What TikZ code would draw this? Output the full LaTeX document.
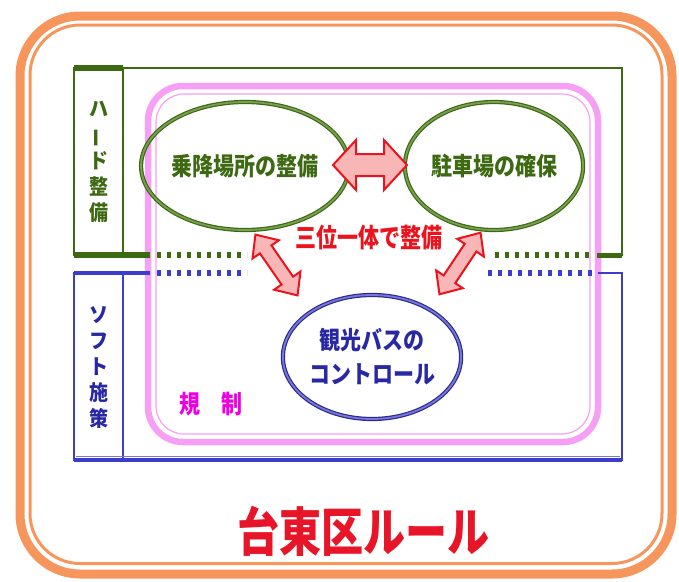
\documentclass[tikz,border=0pt]{standalone}
\usepackage{fontspec}
\newfontfamily\jp{Noto Sans CJK JP}
\usetikzlibrary{shapes.geometric}
\newcommand{\ystr}[2]{\scalebox{1}[#1]{#2}}
\definecolor{orng}{RGB}{247,150,92}
\definecolor{grn}{RGB}{60,105,18}
\definecolor{grnlt}{RGB}{120,160,80}
\definecolor{blu}{RGB}{60,60,205}
\definecolor{blutxt}{RGB}{40,40,165}
\definecolor{blult}{RGB}{120,120,220}
\definecolor{pnk}{RGB}{245,160,245}
\definecolor{redl}{RGB}{235,20,30}
\definecolor{arrfill}{RGB}{248,182,182}
\definecolor{mag}{RGB}{238,0,225}
\definecolor{titred}{RGB}{232,20,40}
\begin{document}
\begin{tikzpicture}[x=1pt,y=-1pt,
  ell/.style={ellipse, minimum width=174pt, minimum height=128pt, inner sep=0pt, line width=1.2pt, double distance=1.8pt},
  gell/.style={ell, draw=grn, double=grnlt, text=grn},
  bell/.style={ell, draw=blu!70!black, double=blult, text=blutxt, minimum width=172pt, minimum height=124pt},
  jtext/.style={font=\jp\bfseries\fontsize{21}{21}\selectfont},
  blockarrow/.style={draw=redl, fill=arrfill, line width=2pt, line join=miter},
  gline/.style={draw=grn, line width=2.8pt},
  bline/.style={draw=blu, line width=2.8pt},
  gdots/.style={draw=grn, line width=6pt, dash pattern=on 4pt off 6pt},
  bdots/.style={draw=blu, line width=6pt, dash pattern=on 4pt off 6pt},
  vlabel/.style={font=\jp\bfseries\fontsize{19}{26}\selectfont, align=center, inner sep=0pt}
]
\useasboundingbox (0,0) rectangle (679,581);
% outer orange frame
\draw[orng, line width=9pt, rounded corners=60pt] (20,16) rectangle (672,574);
\draw[orng, line width=3pt, rounded corners=50pt] (30,25) rectangle (662,563.5);
% pink region
\draw[pnk, line width=6.5pt, rounded corners=35pt] (148,86) rectangle (598,442);
\draw[pnk, line width=1.2pt, rounded corners=28pt] (156,94) rectangle (590,434);
% green box
\draw[gline] (150,255) -- (74,255) -- (74,68) -- (622,68) -- (622,255) -- (597,255);
\draw[gline] (123,68) -- (123,255);
\draw[grn, line width=6pt] (74,68) -- (123,68);
\draw[grn, line width=6pt] (74,255) -- (150,255);
\draw[grn, line width=5pt] (597,255) -- (622,255);
\draw[gdots] (157,255) -- (247,255);
\draw[gdots] (495,255) -- (594,255);
% blue box
\draw[bline] (150,273) -- (74,273) -- (74,460) -- (622,460) -- (622,273) -- (598,273);
\draw[bline] (123,273) -- (123,460);
\draw[blu, line width=4.5pt] (74,273) -- (150,273);
\draw[blu, line width=4.5pt] (74,460) -- (622,460);
\draw[blult, line width=1pt] (76,456.5) -- (620,456.5);
\draw[bdots] (157,273) -- (247,273);
\draw[bdots] (488,273) -- (594,273);
% labels
\node[vlabel, text=grn] (hard) at (99,162) {\ystr{1.1}{ハ}\\\rotatebox[origin=c]{90}{ー}\\\ystr{1.1}{ド}\\\ystr{1.1}{整}\\\ystr{1.1}{備}};
\node[vlabel, text=blutxt] (soft) at (99,367) {\ystr{1.1}{ソ}\\\ystr{1.1}{フ}\\\ystr{1.1}{ト}\\\ystr{1.1}{施}\\\ystr{1.1}{策}};
% ellipses
\node[gell, jtext] (jouko) at (245,166) {\ystr{1.18}{乗降場所の整備}};
\node[gell, jtext] (chusha) at (494,166) {\ystr{1.18}{駐車場の確保}};
\node[bell, font=\jp\bfseries\fontsize{21}{34}\selectfont, align=center] (bus) at (372,357) {\ystr{1.18}{観光バスの}\\\ystr{1.18}{コントロール}};
% arrows
\draw[blockarrow] (333,165) -- (356,140) -- (356,154) -- (384,154) -- (384,140) -- (407,165) -- (384,190) -- (384,176) -- (356,176) -- (356,190) -- cycle;
\begin{scope}[shift={(276.5,265)}, rotate=-55.3]
\draw[blockarrow] (-37,0) -- (-19,16) -- (-19,7) -- (19,7) -- (19,16) -- (37,0) -- (19,-16) -- (19,-7) -- (-19,-7) -- (-19,-16) -- cycle;
\end{scope}
\begin{scope}[shift={(460,263.5)}, rotate=-123.7]
\draw[blockarrow] (-37,0) -- (-19,16) -- (-19,7) -- (19,7) -- (19,16) -- (37,0) -- (19,-16) -- (19,-7) -- (-19,-7) -- (-19,-16) -- cycle;
\end{scope}
% texts
\node[jtext, text=redl, inner sep=0pt] (sanmi) at (369,238) {\ystr{1.25}{三位一体で整備}};
\node[jtext, text=mag, inner sep=0pt] (kisei) at (211,404) {\ystr{1.2}{規　制}};
\node[font=\jp\bfseries\fontsize{42}{42}\selectfont, text=titred, inner sep=0pt] (title) at (363,531) {\ystr{1.25}{台東区ルール}};
\end{tikzpicture}
\end{document}
